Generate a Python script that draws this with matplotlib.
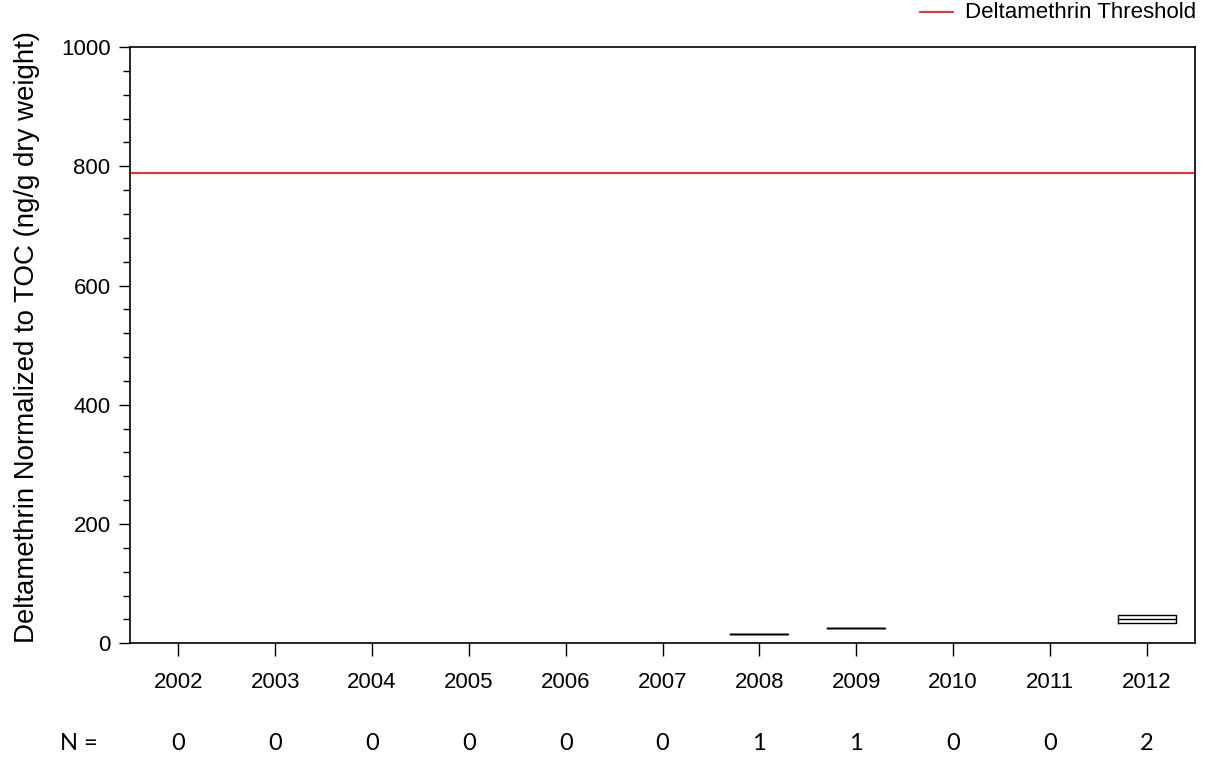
import numpy as np
import matplotlib.pyplot as plt
from matplotlib.ticker import MultipleLocator

years = ['2002', '2003', '2004', '2005', '2006', '2007',
         '2008', '2009', '2010', '2011', '2012']
# measured values per year (ng/g dry weight, TOC normalized)
samples = {
    '2008': [16],
    '2009': [25],
    '2012': [34, 47],
}
threshold = 789
threshold_label = 'Deltamethrin Threshold'
y_label = 'Deltamethrin Normalized to TOC (ng/g dry weight)'

plt.rcParams['font.family'] = ['Liberation Sans', 'DejaVu Sans']

fig = plt.figure(figsize=(12.08, 7.61), dpi=100)
ax = fig.add_axes([130 / 1208, 1 - 643.3 / 761, 1065 / 1208, (643.3 - 47) / 761])

# box stats: with so few points the box spans min..max, median in the middle
stats = []
positions = []
for i, yr in enumerate(years):
    vals = samples.get(yr)
    if not vals:
        continue
    v = np.array(vals, dtype=float)
    stats.append(dict(med=np.median(v), q1=v.min(), q3=v.max(),
                      whislo=v.min(), whishi=v.max(), fliers=[]))
    positions.append(i)

ax.bxp(stats, positions=positions, widths=0.6, showcaps=False,
       boxprops=dict(color='black', linewidth=1.0),
       medianprops=dict(color='black', linewidth=1.0),
       whiskerprops=dict(color='black', linewidth=1.0))

ax.axhline(threshold, color='#ff0000', linewidth=1.2, zorder=1)

ax.set_xlim(-0.5, len(years) - 0.5)
ax.set_ylim(0, 1000)
ax.set_xticks(range(len(years)))
ax.set_xticklabels(years, fontsize=16)
ax.yaxis.set_major_locator(MultipleLocator(200))
ax.yaxis.set_minor_locator(MultipleLocator(40))
ax.tick_params(axis='y', which='major', length=8, width=1.0, labelsize=16, pad=6)
ax.tick_params(axis='y', which='minor', length=5, width=1.0)
ax.tick_params(axis='x', which='major', length=9, width=1.0, pad=12)
for sp in ax.spines.values():
    sp.set_linewidth(1.2)
ax.set_ylabel(y_label, fontsize=19.9)
ax.yaxis.set_label_coords((40 - 130) / 1065, 0.514)

# sample counts under each year
n_y = 1 - 743 / 761
fig.text(79 / 1208, n_y, 'N =', fontsize=17, ha='center', va='center',
         family=['Lato', 'DejaVu Sans'])
for i, yr in enumerate(years):
    n = len(samples.get(yr, []))
    xfig = fig.transFigure.inverted().transform(ax.transData.transform((i, 0)))[0]
    fig.text(xfig, n_y, str(n), fontsize=17, ha='center', va='center',
             family=['Lato', 'DejaVu Sans'])

# legend entry in the top right corner
ly = 1 - 12 / 761
fig.add_artist(plt.Line2D([920 / 1208, 953 / 1208], [ly, ly],
                          color='#ff0000', linewidth=1.2,
                          transform=fig.transFigure))
fig.text(965 / 1208, ly, threshold_label, fontsize=16, va='center', ha='left')

fig.savefig('out.png', dpi=100)
